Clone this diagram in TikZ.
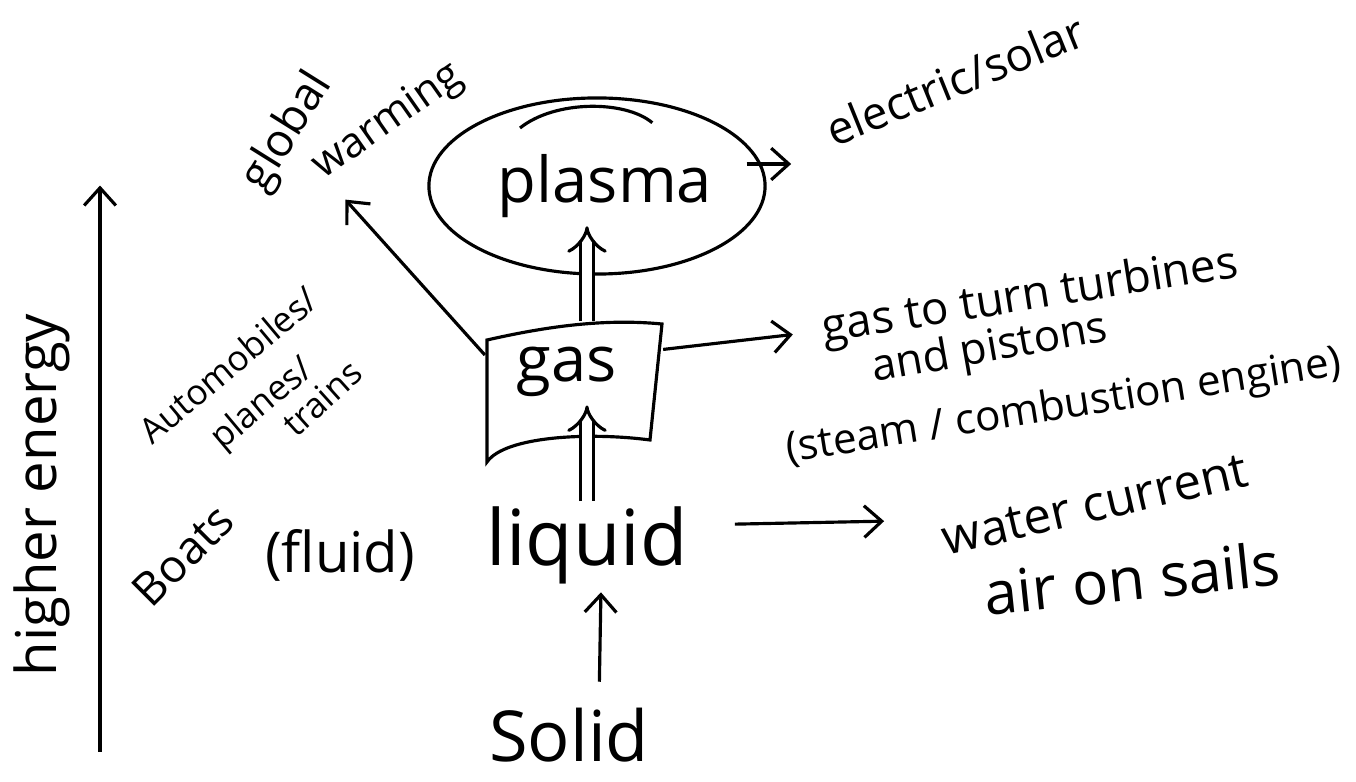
\documentclass[tikz,border=0pt]{standalone}
\usepackage{fontspec}
\setmainfont{Open Sans}
\usetikzlibrary{
        arrows.meta,
        positioning,
        shapes.geometric
    }
\tikzset{>={Straight Barb[length=5pt,width=9pt]},shorten >=1pt}
\tikzset{word/.style={inner sep=1pt,font=\fontsize{#1}{#1}\selectfont}}
\tikzset{twin/.style={double,double distance=3pt,-{Implies}}}

\begin{document}
\begin{tikzpicture}[x=0.01cm,y=-0.01cm,line width=0.9pt]
    \useasboundingbox (0,0) rectangle (1356,782);
    % energy axis
    \coordinate (low) at (100,752);
    \coordinate (high) at (100,182);
    \draw[->] (low) -- (high);
    \node[word=16,rotate=90] (energy) at (42,495) {higher energy};

    % the states
    \node[draw,ellipse,minimum width=3.36cm,minimum height=1.76cm] (ring) at (597,186) {};
    \node[word=18] (plasma) at (605,186) {plasma};
    \draw (520,128) .. controls (555,100) and (625,100) .. (655,125);
    \node[minimum width=1.75cm,minimum height=1.36cm] (gasbox) at (574,391) {};
    \draw (487,340) .. controls (540,328) and (600,318) .. (662,324)
        -- (650,440) .. controls (590,432) and (505,436) .. (487,462) -- cycle;
    \node[word=18] (gas) at (567,372) {gas};
    \node[word=22] (liquid) at (587,545) {liquid};
    \node[word=20] (solid) at (569,735) {Solid};
    \node[word=16] (fluid) at (340,555) {(fluid)};
    \node[word=13,rotate=45] (boats) at (183,555) {Boats};

    % uses
    \node[word=13,rotate=22] (solar) at (955,80) {electric/solar};
    \node[word=13,rotate=9] (turbines) at (1030,298) {gas to turn turbines};
    \node[word=12.5,rotate=10] (pistons) at (990,350) {and pistons};
    \node[word=12,rotate=9] (engine) at (1064,408) {(steam / combustion engine)};
    \node[word=14,rotate=13] (water) at (1095,505) {water current};
    \node[word=17,rotate=6] (sails) at (1132,578) {air on sails};
    \node[word=10,rotate=40] (autos) at (228,365) {Automobiles/};
    \node[word=10,rotate=40] (planes) at (263,405) {planes/};
    \node[word=10,rotate=42] (trains) at (322,398) {trains};
    \node[word=13,rotate=58] (global) at (288,132) {global};
    \node[word=12,rotate=35] (warming) at (388,122) {warming};
    \coordinate (heat) at (343,197);

    \draw[twin] (gasbox.north -| liquid) -- (plasma.south -| liquid);
    \draw[twin] (liquid.north) -- (gas.south -| liquid);
    \draw[->,shorten <=6pt] ([xshift=3mm]solid.north) -- ([xshift=1.4mm]liquid.south);
    \draw[->] ([shift={(-20,-22)}]ring.east) -- ++(48,0);
    \draw[->] (gasbox.158) -- (heat);
    \draw[->,shorten >=7pt] (gasbox.25) -- (turbines.west);
    \draw[->,shorten <=12pt,shorten >=14pt] ([yshift=2mm]liquid.east) -- (water.north west);
\end{tikzpicture}
\end{document}
